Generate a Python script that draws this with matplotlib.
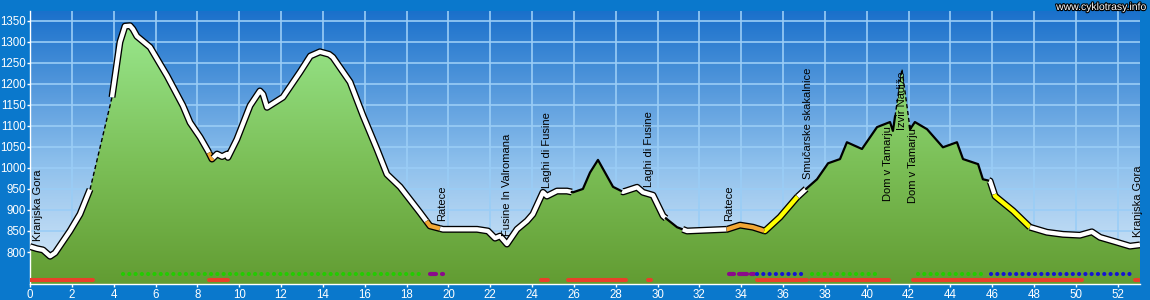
import numpy as np
import matplotlib.pyplot as plt
from matplotlib.colors import LinearSegmentedColormap
from matplotlib.patches import Polygon
from matplotlib import patheffects as pe

plt.rcParams['font.family'] = ['Liberation Sans', 'DejaVu Sans']

# elevation profile: distance (km) / elevation (m)
km = [0.00, 0.33, 0.62, 0.96, 1.20, 1.91, 2.39, 2.87, 3.92, 4.30, 4.54, 4.78,
      4.92, 5.11, 5.74, 6.55, 7.31, 7.65, 8.13, 8.51, 8.70, 8.94, 9.18, 9.42,
      9.46, 9.89, 10.52, 10.99, 11.14, 11.33, 12.09, 12.91, 13.40, 13.86, 14.30,
      14.48, 15.30, 15.92, 16.59, 17.06, 17.69, 18.64, 19.12, 19.74, 21.37, 21.89,
      22.23, 22.47, 22.80, 23.28, 23.76, 24.04, 24.52, 24.71, 25.19, 25.67, 25.96,
      26.43, 26.77, 27.15, 27.87, 28.35, 29.02, 29.30, 29.78, 30.26, 30.45, 30.93,
      31.41, 33.32, 33.94, 34.56, 35.13, 35.85, 36.66, 37.14, 37.62, 38.15, 38.72,
      39.05, 39.77, 40.49, 41.11, 41.25, 41.68, 42.07, 42.30, 42.88, 43.64, 44.31,
      44.60, 45.32, 45.55, 45.89, 46.13, 46.99, 47.80, 48.61, 49.38, 50.19, 50.76,
      51.15, 51.77, 52.58, 53.06]
elev = [813, 808, 805, 790, 798, 850, 890, 949, 1168, 1299, 1337, 1338,
        1330, 1313, 1287, 1219, 1148, 1108, 1073, 1040, 1021, 1033, 1027, 1033,
        1025, 1068, 1148, 1183, 1175, 1144, 1168, 1228, 1266, 1276, 1270,
        1263, 1204, 1124, 1044, 985, 955, 894, 862, 854, 854, 850,
        833, 838, 819, 854, 874, 890, 942, 933, 945, 945, 942,
        950, 989, 1019, 955, 943, 954, 942, 935, 886, 878, 859,
        850, 854, 864, 859, 850, 883, 930, 952, 973, 1011, 1021,
        1061, 1045, 1097, 1109, 1088, 1235, 1092, 1109, 1092, 1049, 1061,
        1021, 1009, 973, 969, 933, 898, 859, 847, 842, 840, 848,
        835, 826, 814, 817]

# track sections and how they are drawn
sec_from = [0.00, 2.87, 3.92, 8.55, 8.75, 18.95, 19.60, 25.90, 28.30, 30.40,
            31.20, 33.30, 35.10, 36.70, 37.10, 41.35, 42.05, 45.85, 46.10, 47.80]
sec_to = [2.87, 3.92, 8.55, 8.75, 18.95, 19.60, 25.90, 28.30, 30.40, 31.20,
          33.30, 35.10, 36.70, 37.10, 41.35, 42.05, 45.85, 46.10, 47.80, 53.06]
sec_kind = ['white', 'dash', 'white', 'orange', 'white', 'orange', 'white', 'black',
            'white', 'black', 'white', 'orange', 'yellow', 'white', 'black', 'dash',
            'black', 'white', 'yellow', 'white']

# waypoints
wp_names = ['Kranjska Gora', 'Ratece', 'Fusine In Valromana', 'Laghi di Fusine',
            'Laghi di Fusine', 'Ratece', 'Smučarske skakalnice', 'Dom v Tamarju',
            'Izvir Nadiže', 'Dom v Tamarju', 'Kranjska Gora']
wp_km = [0.38, 19.70, 22.80, 24.70, 29.60, 33.40, 37.20, 41.01, 41.68, 42.21, 52.98]
wp_below = [False, False, False, False, False, False, False, True, True, True, False]

# strips along the bottom
red_from = [0.00, 8.55, 24.45, 25.70, 29.55, 34.75, 37.35, 42.20, 52.80]
red_to = [3.00, 9.45, 24.75, 28.50, 29.70, 37.15, 41.05, 50.30, 53.00]
green_from = [4.45, 37.40, 42.45]
green_to = [18.90, 40.55, 45.55]
purple_from = [19.10, 19.70, 33.40, 33.90, 34.45]
purple_to = [19.40, 19.72, 33.65, 34.25, 34.62]
blue_from = [34.75, 45.95]
blue_to = [37.15, 52.80]

xticks = list(range(0, 53, 2))
yticks = list(range(800, 1351, 50))

FRAME = '#0A78CC'
X0, X1, Y0, Y1 = 0, 53.06, 724, 1373

fig = plt.figure(figsize=(11.5, 3), dpi=100, facecolor=FRAME)
ax = fig.add_axes([30 / 1150, 16 / 300, 1110 / 1150, 273 / 300])
ax.set_xlim(X0, X1)
ax.set_ylim(Y0, Y1)

grad = np.linspace(0, 1, 256).reshape(-1, 1)
sky = LinearSegmentedColormap.from_list('sky', [(0, '#DDECF9'), (0.45, '#8CBFEC'), (1, '#1A70CB')])
ax.imshow(grad, extent=[X0, X1, Y0, Y1], origin='lower', aspect='auto', cmap=sky, zorder=0)

ax.set_axisbelow(True)
ax.grid(color='#9ACDF6', lw=1.2)

# green fill under the profile
verts = [(km[0], Y0)] + list(zip(km, elev)) + [(km[-1], Y0)]
poly = Polygon(verts, closed=True, facecolor='none', edgecolor='none')
ax.add_patch(poly)
grass = LinearSegmentedColormap.from_list('grass', [(0, '#629C32'), (0.45, '#7CC058'), (1, '#9CEB92')])
im = ax.imshow(grad, extent=[X0, X1, Y0, Y1], origin='lower', aspect='auto', cmap=grass, zorder=2)
im.set_clip_path(poly)

km_a = np.array(km)
el_a = np.array(elev)
band = {'white': 'white', 'orange': '#F2A735', 'yellow': '#FFFF00'}
for a, b, kind in zip(sec_from, sec_to, sec_kind):
    inside = (km_a > a) & (km_a < b)
    xs = np.concatenate([[a], km_a[inside], [b]])
    ys = np.interp(xs, km_a, el_a)
    if kind in band:
        ax.plot(xs, ys, color=band[kind], lw=3.1, solid_capstyle='butt',
                solid_joinstyle='round', zorder=4,
                path_effects=[pe.Stroke(linewidth=5.0, foreground='black'), pe.Normal()])
    elif kind == 'black':
        ax.plot(xs, ys, color='black', lw=1.6, zorder=4)
    else:
        ax.plot(xs, ys, color='black', lw=1.0, ls=(0, (3, 2)), zorder=4)

for name, x, below in zip(wp_names, wp_km, wp_below):
    y = np.interp(x, km_a, el_a)
    if below:
        ax.annotate(name, (x, y), xytext=(0, -2), textcoords='offset points', rotation=90,
                    ha='center', va='top', fontsize=8, color='black', zorder=6, annotation_clip=False)
    else:
        ax.annotate(name, (x, y), xytext=(0, 5.5), textcoords='offset points', rotation=90,
                    ha='center', va='bottom', fontsize=8, color='black', zorder=6, annotation_clip=False)

y_bar, y_dot = 732.6, 747
for a, b in zip(red_from, red_to):
    ax.plot([a, b], [y_bar, y_bar], color='#E8402A', lw=2.9, solid_capstyle='round', zorder=5)
for a, b in zip(purple_from, purple_to):
    ax.plot([a, b], [y_dot, y_dot], color='#8A0A8A', lw=3.0, solid_capstyle='round', zorder=5)
for a, b, c in [(f, t, '#22CC00') for f, t in zip(green_from, green_to)] + \
               [(f, t, '#1414D2') for f, t in zip(blue_from, blue_to)]:
    ax.plot([a, b], [y_dot, y_dot], color=c, lw=3.0, ls=(0, (0.01, 1.5)),
            dash_capstyle='round', zorder=5)

ax.set_xticks(xticks)
ax.set_yticks(yticks)
ax.tick_params(colors='white', labelsize=8.3, length=2, width=1)
ax.tick_params(axis='x', pad=1.5)
ax.tick_params(axis='y', pad=1)
for s in ['top', 'right']:
    ax.spines[s].set_visible(False)
for s in ['left', 'bottom']:
    ax.spines[s].set_color('white')
    ax.spines[s].set_linewidth(1)

fig.text(1146 / 1150, 1 - 7 / 300, 'www.cyklotrasy.info', ha='right', va='center',
         fontsize=7.5, color='white',
         path_effects=[pe.withStroke(linewidth=1.6, foreground='black')])

fig.savefig('out.png', dpi=100, facecolor=FRAME)
